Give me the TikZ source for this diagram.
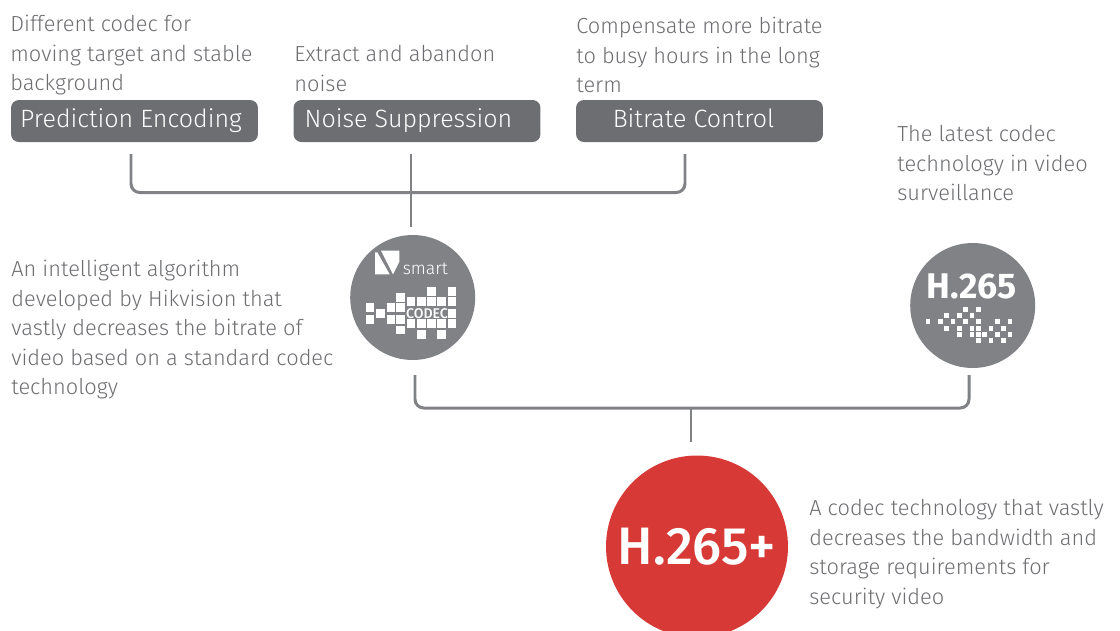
\documentclass[tikz,border=0pt]{standalone}
\usepackage{fontspec}
\setmainfont{Fira Sans Light}[BoldFont=Fira Sans Medium]
\newfontfamily\heavyface{Fira Sans}[UprightFont=*-Bold]
\definecolor{pillgray}{HTML}{6D6E71}
\definecolor{discgray}{HTML}{808285}
\definecolor{textgray}{HTML}{6D6E71}
\definecolor{discred}{HTML}{D73A36}
\tikzset{
	pill/.style={fill=pillgray,rounded corners=4.5pt,minimum width=4.94cm,minimum height=.84cm,inner sep=0pt,text=white,text height=10.5pt,text depth=3.2pt,font=\fontsize{14.25}{17}\selectfont},
	note/.style={anchor=north west,align=left,inner sep=0pt,text=textgray,font=\fontsize{12.4}{16.8}\selectfont},
	disc/.style={circle,fill=discgray,minimum size=2.5cm,inner sep=0pt},
	link/.style={draw=discgray,line width=1.7pt,rounded corners=5pt},
}
\begin{document}
\begin{tikzpicture}[x=0.02cm,y=-0.02cm]
	\clip (0,0) rectangle (1120,630);

	\node[note] (predicttext) at (10,15) {Different codec for\\moving target and stable\\background};
	\node[note] (noisetext) at (294,45) {Extract and abandon\\noise};
	\node[note] (bitratetext) at (576,17) {Compensate more bitrate\\to busy hours in the long\\term};
	\node[note] (h265text) at (897,125) {The latest codec\\technology in video\\surveillance};
	\node[note] (smarttext) at (11,260) {An intelligent algorithm\\developed by Hikvision that\\vastly decreases the bitrate of\\video based on a standard codec\\technology};
	\node[note] (plustext) at (809,499) {A codec technology that vastly\\decreases the bandwidth and\\storage requirements for\\security video};

	\node[pill] (predict) at (134.5,121) {\hspace{-.14cm}Prediction Encoding};
	\node[pill] (noise) at (417,121) {\hspace{-.34cm}Noise Suppression};
	\node[pill] (bitrate) at (699.5,121) {\hspace{-.24cm}Bitrate Control};

	\node[disc] (smart) at (412.7,297.5) {};
	\node[disc] (h265) at (972.7,305.5) {};
	\node[circle,fill=discred,minimum size=3.64cm,inner sep=0pt,text=white,font=\bfseries\fontsize{30}{32}\selectfont] (plus) at (697,546.5) {H.265+};

	% upper bracket
	\coordinate (predictfoot) at (131,154);
	\coordinate (bitratefoot) at (685,154);
	\coordinate (noisefoot) at (411,154);
	\coordinate (smarthead) at (411,227);
	\draw[link] (predictfoot) |- (411,192.5) -| (bitratefoot);
	\draw[link] (noisefoot) -- (smarthead);

	% lower bracket
	\coordinate (smartfoot) at (415,375);
	\coordinate (h265foot) at (969,375);
	\coordinate (joinlow) at (691,408);
	\coordinate (plushead) at (691,442);
	\draw[link] (smartfoot) |- (joinlow) -| (h265foot);
	\draw[link] (joinlow) -- (plushead);

	% smart logo, in the units of a 3x crop
	\begin{scope}[shift={(365,245)},x=0.00667cm,y=-0.00667cm]
		\fill[white] (30,22) -- (37,22) -- (74,88) -- (30,88) -- cycle;
		\fill[white] (48,17) -- (103,17) -- (103,50) -- (84,88) -- cycle;
		\node[white,anchor=base,font=\fontsize{10}{12}\selectfont] (smartword) at (181,87) {smart};
	\end{scope}
	\begin{scope}[shift={(360,285)},x=0.00667cm,y=-0.00667cm]
		\foreach \cx/\cy in {30/68,30/103,62/85,93/68,93/103,122/38,122/68,122/103,122/135,
				153/50,184/50,215/50,245/50,276/50,215/20,276/20,276/85,
				153/115,184/115,215/115,245/115,276/115,184/148,245/148}
			\fill[white] (\cx-13,\cy-13) rectangle (\cx+13,\cy+13);
		\node[white,font=\bfseries\fontsize{8}{8}\selectfont] (codecword) at (201,85) {CODEC};
	\end{scope}

	% h.265 logo
	\begin{scope}[shift={(900,235)},x=0.00667cm,y=-0.00667cm]
		\node[white,font=\heavyface\fontsize{20.3}{20}\selectfont] (h265word) at (215,155) {H.265};
	\end{scope}
	\begin{scope}[shift={(920,300)},x=0.00667cm,y=-0.00667cm]
		\foreach \cx/\cy in {137/28,175/28,80/47,118/47,156/47,
				24/65,61/65,99/65,137/65,175/65,232/65,270/65,
				80/85,118/85,156/85,175/85,213/85,251/85,
				118/103,156/103,175/103,194/103,232/103,270/103,175/122,213/122,251/122}
			\fill[white] (\cx-7,\cy-7) rectangle (\cx+7,\cy+7);
	\end{scope}
\end{tikzpicture}
\end{document}
